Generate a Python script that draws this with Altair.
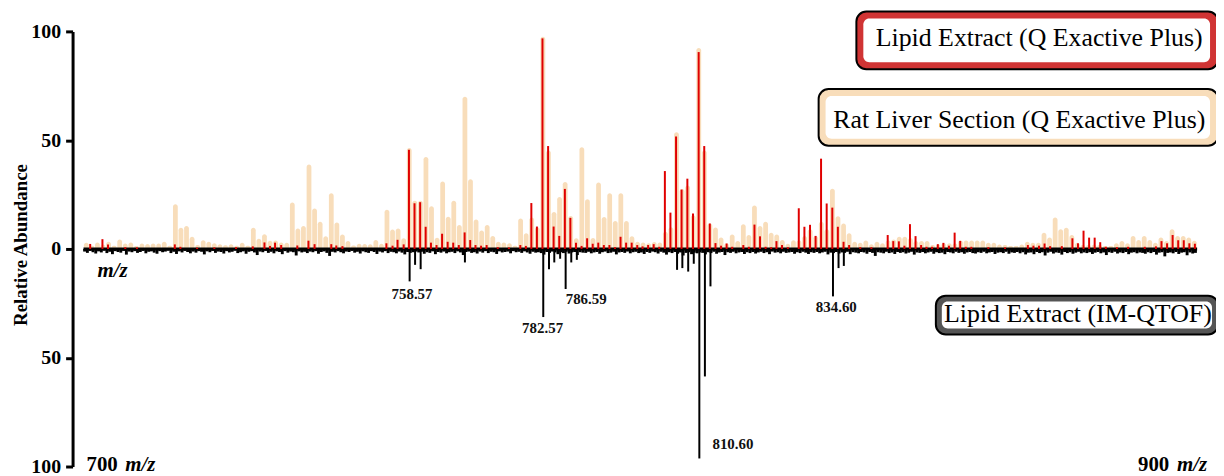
import altair as alt
import pandas as pd

# ---------------- data ----------------
# Rat liver section (beige), one bar per nominal m/z 700..899
beige = [
    2.9, 1.5, 3.0, 2.0, 3.3, 1.5, 4.4, 2.5, 3.0, 1.4,
    2.5, 2.3, 2.5, 2.5, 3.3, 1.5, 20.5, 9.7, 10.5, 5.6,
    1.8, 4.0, 3.3, 2.6, 2.2, 1.7, 2.2, 1.5, 2.9, 1.5,
    9.7, 4.7, 6.8, 3.8, 3.9, 3.0, 2.8, 21.3, 9.4, 10.5,
    38.8, 18.6, 12.5, 5.8, 25.6, 12.2, 6.6, 3.6, 1.6, 2.4,
    2.3, 2.2, 4.1, 2.4, 18.0, 8.9, 9.4, 4.9, 46.4, 22.2,
    22.2, 42.3, 19.6, 5.2, 31.0, 14.8, 22.1, 11.0, 70.0, 32.0,
    13.5, 8.5, 11.0, 5.9, 3.3, 3.0, 2.6, 1.5, 14.0, 7.2,
    14.5, 10.0, 97.5, 45.3, 17.0, 23.9, 30.8, 15.2, 4.9, 46.7,
    22.8, 5.0, 30.5, 14.7, 25.6, 12.8, 25.6, 12.8, 5.8, 3.3,
    3.0, 2.6, 3.2, 3.0, 7.9, 10.0, 53.6, 27.6, 29.2, 15.5,
    92.4, 45.2, 11.7, 9.9, 5.3, 2.6, 6.7, 3.7, 11.3, 6.4,
    20.0, 10.5, 12.5, 7.5, 6.6, 4.1, 2.4, 4.0, 4.0, 6.0,
    9.0, 6.0, 12.5, 9.0, 27.7, 15.0, 11.7, 7.2, 3.3, 2.9,
    3.9, 2.2, 3.3, 2.6, 4.0, 4.4, 5.6, 5.6, 5.0, 3.7,
    3.7, 3.7, 1.8, 2.2, 2.6, 2.6, 2.6, 3.9, 3.9, 3.9,
    3.9, 3.9, 2.9, 2.9, 2.1, 1.8, 1.4, 1.4, 2.1, 3.3,
    2.9, 2.9, 7.5, 5.3, 14.5, 9.0, 9.7, 6.4, 2.9, 1.8,
    1.8, 2.1, 1.8, 1.4, 1.4, 2.6, 3.7, 2.6, 5.9, 4.1,
    5.9, 4.1, 2.9, 5.3, 3.7, 9.0, 5.9, 5.9, 5.3, 3.8,
]

# Lipid extract, Q Exactive Plus (red)
red_mz = [
    701.2, 703.4, 704.4, 707.5, 709.6, 716.4, 717.4, 720.4, 723.5, 727.4,
    730.4, 732.5, 733.5, 734.4, 735.5, 738.4, 740.4, 741.5, 744.5, 745.4,
    746.5, 754.4, 755.5, 756.4, 757.5, 758.45, 759.45, 760.46, 761.45, 762.4,
    763.4, 764.4, 765.4, 766.4, 767.4, 768.45, 769.45, 770.4, 771.4, 772.4,
    774.4, 776.4, 778.45, 779.45, 780.43, 781.43, 782.43, 783.44, 784.43, 785.44,
    786.45, 787.44, 788.45, 789.45, 790.45, 791.45, 792.45, 793.45, 794.45, 795.45,
    796.45, 797.45, 798.45, 799.45, 800.4, 801.4, 802.4, 803.4, 804.41, 805.41,
    806.42, 807.41, 808.45, 809.46, 810.48, 811.48, 812.48, 813.5, 814.5, 815.5,
    816.5, 818.5, 819.5, 820.5, 821.5, 822.5, 823.5, 824.45, 825.45, 826.5,
    828.46, 829.47, 830.48, 831.48, 832.46, 833.47, 834.48, 835.48, 836.5, 837.5,
    839.5, 841.5, 844.43, 845.43, 846.43, 847.43, 848.43, 849.43, 850.43, 851.4,
    852.4, 853.43, 854.43, 855.43, 856.45, 857.45, 858.45, 859.45, 862.5, 865.5,
    869.6, 870.6, 871.6, 872.6, 873.6, 875.7, 877.6, 878.6, 879.6, 880.6,
    881.6, 882.6, 883.6, 885.6, 887.6, 890.6, 892.6, 893.6, 894.6, 895.6,
    896.6, 897.6, 898.6, 899.6,
]
red_val = [
    2.3, 4.5, 2.0, 0.8, 0.7, 2.1, 1.0, 0.6, 0.7, 0.8,
    1.2, 3.0, 1.4, 2.9, 1.8, 1.6, 3.8, 2.2, 2.2, 1.6,
    1.3, 2.6, 1.5, 4.2, 2.1, 45.6, 21.0, 21.5, 10.2, 2.9,
    1.8, 7.0, 3.3, 2.9, 1.8, 7.6, 4.1, 1.8, 1.5, 1.8,
    0.8, 0.7, 1.8, 1.4, 21.1, 10.3, 96.8, 47.3, 10.3, 6.0,
    27.6, 14.3, 2.9, 1.4, 4.9, 2.4, 2.9, 1.8, 1.8, 0.8,
    5.6, 2.9, 2.9, 1.8, 1.2, 1.8, 2.2, 1.0, 35.8, 16.7,
    51.7, 27.3, 32.3, 16.3, 90.5, 47.3, 11.7, 2.7, 1.5, 2.5,
    1.0, 1.8, 1.0, 11.2, 5.8, 1.0, 0.8, 3.6, 1.8, 0.8,
    18.7, 10.2, 11.1, 6.0, 41.5, 20.9, 19.0, 10.2, 3.3, 1.8,
    0.8, 0.8, 6.4, 3.6, 3.5, 1.5, 11.4, 5.9, 1.8, 1.0,
    1.0, 2.2, 2.8, 1.5, 7.5, 3.7, 1.0, 1.0, 0.8, 0.7,
    1.8, 1.5, 1.5, 2.5, 1.3, 1.3, 4.9, 2.6, 8.4, 5.2,
    5.2, 3.1, 1.0, 0.8, 1.0, 1.0, 1.2, 3.6, 2.6, 6.4,
    4.0, 4.0, 2.6, 2.4,
]

# Lipid extract, IM-QTOF (black, mirrored downward)
black_mz = [
    758.57, 759.55, 760.55, 768.5, 782.57, 783.6, 784.55, 785.6, 786.59, 787.6,
    788.6, 806.6, 807.55, 808.6, 809.6, 810.60, 811.6, 812.6, 834.60, 835.6,
    836.55,
]
black_val = [
    14.9, 7.3, 9.3, 6.2, 31.3, 9.3, 6.2, 4.5, 18.4, 6.2,
    5.0, 9.6, 8.8, 10.4, 6.8, 96.3, 58.6, 17.2, 21.8, 8.8,
    7.8,
]

# IM-QTOF baseline noise, one value per half m/z from 700 to 899.5
noise = [
    1.2, 1.8, 0.9, 1.5, 2.1, 1.1, 1.6, 0.8, 1.9, 1.3, 2.4, 1.0, 1.4, 1.7, 0.9, 2.6, 1.2, 1.5, 1.0, 1.8,
    1.4, 0.9, 2.0, 1.3, 1.1, 1.7, 2.2, 1.0, 1.5, 1.2, 0.8, 1.9, 1.3, 2.3, 1.1, 1.6, 0.9, 1.4, 2.0, 1.2,
    1.7, 1.0, 1.3, 2.5, 1.1, 1.5, 0.9, 1.8, 1.2, 1.4, 2.1, 1.0, 1.6, 1.3, 0.8, 1.9, 1.5, 1.1, 2.2, 1.3,
    1.0, 1.6, 2.8, 1.2, 1.5, 0.9, 1.8, 1.3, 2.0, 1.1, 1.4, 2.4, 1.0, 1.7, 1.2, 1.5, 3.0, 1.1, 1.6, 1.3,
    1.9, 1.2, 1.5, 1.0, 2.2, 1.4, 1.1, 1.8, 3.2, 1.3, 1.6, 1.0, 1.5, 2.0, 1.2, 1.4, 0.9, 1.7, 1.3, 2.1,
    1.1, 1.5, 1.8, 1.0, 1.4, 2.3, 1.2, 1.6, 1.0, 1.9, 1.3, 1.5, 2.0, 1.2, 1.7, 2.5, 1.4, 1.8, 1.5, 1.2,
    1.6, 1.3, 2.2, 1.5, 1.8, 1.1, 2.4, 1.4, 1.7, 1.2, 2.0, 1.5, 1.3, 1.9, 1.1, 1.6, 2.8, 1.4, 1.2, 1.8,
    1.5, 2.1, 1.2, 1.7, 1.0, 1.9, 1.3, 1.5, 2.3, 1.1, 1.6, 1.4, 1.2, 2.0, 1.0, 1.5, 1.3, 1.8, 1.1, 1.6,
    2.2, 1.3, 1.7, 1.5, 1.9, 2.6, 1.4, 1.8, 1.2, 1.6, 2.4, 1.5, 1.9, 1.3, 2.1, 1.6, 1.4, 2.8, 1.5, 1.7,
    1.8, 1.3, 2.0, 1.6, 1.4, 2.2, 1.5, 1.2, 1.9, 1.7, 1.3, 2.5, 1.6, 1.4, 1.8, 1.2, 2.0, 1.5, 1.3, 1.9,
    1.6, 2.3, 1.4, 1.8, 1.2, 1.5, 2.1, 1.3, 1.7, 2.6, 1.5, 1.9, 1.4, 2.2, 1.6, 3.0, 1.8, 1.5, 2.4, 1.7,
    2.0, 1.6, 1.8, 2.5, 1.5, 1.9, 1.3, 2.2, 1.6, 1.4, 2.8, 1.5, 1.8, 1.3, 2.0, 1.6, 1.4, 2.3, 1.5, 1.9,
    1.4, 2.1, 1.6, 1.3, 1.9, 1.5, 2.4, 1.2, 1.7, 1.5, 2.0, 1.3, 1.8, 1.6, 1.4, 2.2, 1.5, 1.9, 1.3, 1.7,
    2.3, 1.5, 1.8, 1.4, 2.0, 1.6, 1.3, 2.5, 1.7, 1.9, 1.4, 2.1, 1.6, 1.8, 1.3, 2.4, 1.5, 1.7, 2.0, 1.4,
    1.6, 2.2, 1.4, 1.8, 3.2, 1.5, 1.7, 2.0, 1.3, 1.9, 1.6, 2.3, 1.4, 1.8, 1.5, 2.1, 1.7, 1.3, 2.6, 1.6,
    1.8, 1.4, 2.0, 1.6, 1.3, 2.2, 1.5, 1.9, 1.7, 2.4, 1.4, 1.6, 2.0, 1.3, 1.8, 1.5, 2.2, 1.6, 1.4, 1.9,
    2.1, 1.5, 1.8, 1.3, 2.0, 1.6, 1.4, 2.3, 1.7, 1.5, 1.9, 1.3, 2.2, 1.6, 1.8, 1.4, 2.0, 1.5, 2.5, 1.7,
    1.6, 2.4, 1.4, 1.9, 1.5, 3.0, 1.7, 1.3, 2.1, 1.6, 1.8, 2.6, 1.4, 1.9, 1.5, 2.2, 1.7, 1.3, 2.0, 1.6,
    1.9, 1.5, 2.3, 1.7, 1.4, 2.0, 1.6, 2.8, 1.5, 1.8, 1.3, 2.1, 1.6, 1.9, 1.4, 2.4, 1.7, 1.5, 2.0, 1.6,
    1.8, 2.2, 1.5, 1.9, 1.4, 2.6, 1.7, 1.5, 3.4, 1.8, 1.6, 2.0, 1.4, 2.3, 1.7, 1.5, 2.9, 1.6, 2.1, 1.8,
]

# peak annotations (text, anchor m/z, anchor abundance)
peak_labels_c = ["758.57", "782.57", "834.60"]
peak_label_c_mz = [759.0, 782.45, 835.2]
peak_label_c_y = [-23.0, -38.5, -29.1]
peak_labels_l = ["786.59", "810.60"]
peak_label_l_mz = [786.6, 812.96]
peak_label_l_y = [-25.1, -92.1]

legend_names = [
    "Lipid Extract (Q Exactive Plus)",
    "Rat Liver Section (Q Exactive Plus)",
    "Lipid Extract (IM-QTOF)",
]
y_tick_values = [-100, -50, 0, 50, 100]

# ---------------- styling ----------------
BEIGE = "#F8DDBA"
RED = "#E00000"
SERIF = "Liberation Serif"
W, H = 1131, 438

xs = alt.Scale(domain=[700, 900], nice=False, zero=False)
ys = alt.Scale(domain=[-100, 100], nice=False, zero=False)
yaxis = alt.Axis(
    values=y_tick_values, labelExpr="abs(datum.value)", offset=6,
    domainColor="black", domainWidth=3, tickColor="black", tickWidth=3,
    tickSize=7, labelPadding=5, labelFont=SERIF, labelFontSize=20,
    labelFontWeight="bold", labelColor="black", grid=False, title=None,
)


def X(field):
    return alt.X(field, type="quantitative", scale=xs, axis=None)


def Y(field):
    return alt.Y(field, type="quantitative", scale=ys, axis=yaxis)


beige_df = pd.DataFrame({"mz": [700 + i + 0.5 for i in range(len(beige))], "v": beige})
red_df = pd.DataFrame({"mz": red_mz, "v": red_val})
black_df = pd.DataFrame({"mz": black_mz, "v": [-v for v in black_val]})
noise_df = pd.DataFrame({"mz": [700.2 + 0.5 * i for i in range(len(noise))],
                         "v": [-v for v in noise]})

bars = alt.Chart(beige_df).mark_bar(
    color=BEIGE, size=4.8, cornerRadiusTopLeft=2.4, cornerRadiusTopRight=2.4
).encode(x=X("mz"), y=Y("v"), y2=alt.datum(0))

noise_rules = alt.Chart(noise_df).mark_rule(color="black", strokeWidth=2.9).encode(
    x=X("mz"), y=Y("v"), y2=alt.datum(0))

black_rules = alt.Chart(black_df).mark_rule(color="black", strokeWidth=2).encode(
    x=X("mz"), y=Y("v"), y2=alt.datum(0))

baseline = alt.Chart(pd.DataFrame({"a": [700], "b": [900], "z": [0]})).mark_rule(
    color="black", strokeWidth=3
).encode(x=X("a"), x2="b:Q", y=Y("z"))

red_rules = alt.Chart(red_df).mark_rule(color=RED, strokeWidth=2).encode(
    x=X("mz"), y=Y("v"), y2=alt.datum(0))

lab_c = alt.Chart(pd.DataFrame({"t": peak_labels_c, "mz": peak_label_c_mz, "y": peak_label_c_y})
                  ).mark_text(font=SERIF, fontSize=15, fontWeight="bold", align="center",
                              baseline="alphabetic", color="#111").encode(
    x=X("mz"), y=Y("y"), text="t:N")
lab_l = alt.Chart(pd.DataFrame({"t": peak_labels_l, "mz": peak_label_l_mz, "y": peak_label_l_y})
                  ).mark_text(font=SERIF, fontSize=15, fontWeight="bold", align="left",
                              baseline="alphabetic", color="#111").encode(
    x=X("mz"), y=Y("y"), text="t:N")

# legend boxes (pixel layout relative to the plot area)
boxes = pd.DataFrame({
    "x": [783, 745, 863], "x2": [1147, 1147, 1147],
    "y": [-20, 58, 266], "y2": [38, 115, 305],
    "ix": [790, 752, 869], "ix2": [1139, 1139, 1141],
    "iy": [-13, 65, 272], "iy2": [31, 108, 299],
    "fill": ["#D03434", BEIGE, "#555555"],
    "tx": [967, 947, 1006], "ty": [15, 97, 293],
    "name": legend_names,
})
outer = alt.Chart(boxes).mark_rect(cornerRadius=10, stroke="black", strokeWidth=2).encode(
    x=alt.X("x:Q", scale=None), x2="x2:Q", y=alt.Y("y:Q", scale=None), y2="y2:Q",
    fill=alt.Fill("fill:N", scale=None))
inner = alt.Chart(boxes).mark_rect(cornerRadius=6, fill="white").encode(
    x=alt.X("ix:Q", scale=None), x2="ix2:Q", y=alt.Y("iy:Q", scale=None), y2="iy2:Q")
box_text = alt.Chart(boxes).mark_text(font=SERIF, fontSize=26, align="center",
                                      baseline="alphabetic", color="black").encode(
    x=alt.X("tx:Q", scale=None), y=alt.Y("ty:Q", scale=None), text="name:N")

# free text
ann = pd.DataFrame({
    "t": ["Relative Abundance"], "x": [-58], "y": [215],
})
ytitle = alt.Chart(ann).mark_text(font=SERIF, fontSize=19, fontWeight="bold", angle=270,
                                  align="center", baseline="middle", color="black").encode(
    x=alt.X("x:Q", scale=None), y=alt.Y("y:Q", scale=None), text="t:N")

plain = pd.DataFrame({"t": ["700"], "x": [8], "y": [443]})
plain_r = pd.DataFrame({"t": ["900"], "x": [1098], "y": [443]})
ital_l = pd.DataFrame({"t": ["m/z", "m/z"], "x": [19, 47], "y": [247, 443]})
ital_r = pd.DataFrame({"t": ["m/z"], "x": [1136], "y": [443]})


def txt(df, align, style="normal"):
    return alt.Chart(df).mark_text(font=SERIF, fontSize=21, fontWeight="bold", fontStyle=style,
                                   align=align, baseline="alphabetic", color="black").encode(
        x=alt.X("x:Q", scale=None), y=alt.Y("y:Q", scale=None), text="t:N")


chart = alt.layer(
    bars, noise_rules, black_rules, baseline, red_rules, lab_c, lab_l,
    outer, inner, box_text, ytitle,
    txt(plain, "left"), txt(plain_r, "right"),
    txt(ital_l, "left", "italic"), txt(ital_r, "right", "italic"),
).properties(
    width=W, height=H,
    autosize=alt.AutoSizeParams(type="none"),
    padding={"left": 71, "top": 22, "right": 14, "bottom": 8},
).configure_view(stroke=None)

chart.save("out.html", embed_options={"renderer": "svg", "actions": False})
